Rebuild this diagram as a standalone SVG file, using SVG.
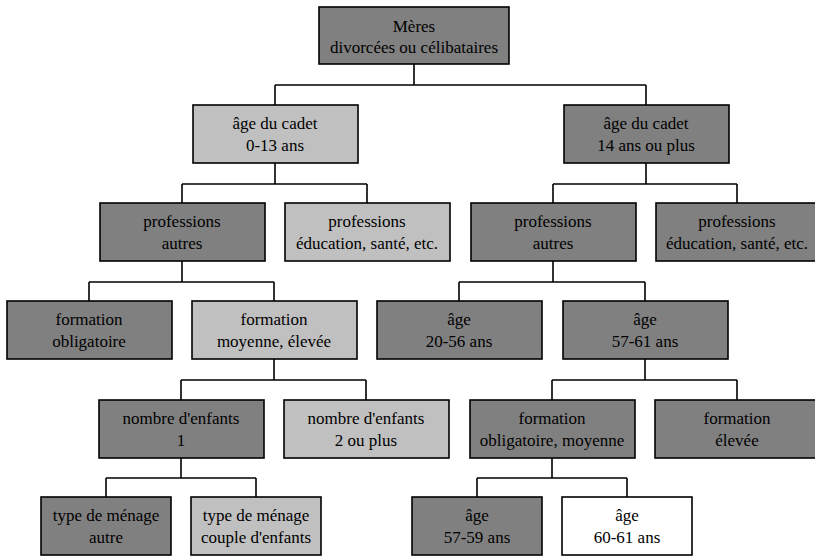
<svg xmlns="http://www.w3.org/2000/svg" width="815" height="556" viewBox="0 0 815 556">
<style>
  .box { stroke: #000; stroke-width: 1.6; }
  .dark { fill: #808080; }
  .light { fill: #c0c0c0; }
  .white { fill: #ffffff; }
  .t text { font-family: 'Liberation Serif', 'Times New Roman', 'DejaVu Serif', serif; font-size: 17px; fill: #000; text-anchor: middle; }
  .conn { fill: none; stroke: #000; stroke-width: 1.6; }
</style>
<rect width="815" height="556" fill="#fff"/>
<g id="connectors" class="conn">
  <path d="M414 64 V85 M275 85 H646 M275 85 V105 M646 85 V105"/>
  <path d="M275 163 V184 M182 184 H367 M182 184 V203 M367 184 V203"/>
  <path d="M646 163 V184 M553 184 H737 M553 184 V203 M737 184 V203"/>
  <path d="M182 261 V282 M89 282 H274 M89 282 V301 M274 282 V301"/>
  <path d="M553 261 V282 M459 282 H645 M459 282 V301 M645 282 V301"/>
  <path d="M274 359 V380 M181 380 H366 M181 380 V400 M366 380 V400"/>
  <path d="M645 359 V380 M552 380 H737 M552 380 V400 M737 380 V400"/>
  <path d="M181 458 V478 M106 478 H256 M106 478 V497 M256 478 V497"/>
  <path d="M552 458 V478 M477 478 H627 M477 478 V497 M627 478 V497"/>
</g>
<g class="t" font-family="Liberation Serif, Times New Roman, serif" font-size="17" text-anchor="middle">
<g id="root">
  <rect class="box dark" x="319" y="7" width="190" height="57"/>
  <text x="414" y="32">Mères</text>
  <text x="414" y="53">divorcées ou célibataires</text>
</g>
<g id="cadet_0_13">
  <rect class="box light" x="193" y="105" width="165" height="58"/>
  <text x="275" y="129">âge du cadet</text>
  <text x="275" y="151">0-13 ans</text>
</g>
<g id="cadet_14_plus">
  <rect class="box dark" x="564" y="105" width="165" height="58"/>
  <text x="646" y="129">âge du cadet</text>
  <text x="646" y="151">14 ans ou plus</text>
</g>
<g id="prof_autres_l">
  <rect class="box dark" x="100" y="203" width="165" height="58"/>
  <text x="182" y="227">professions</text>
  <text x="182" y="249">autres</text>
</g>
<g id="prof_educ_l">
  <rect class="box light" x="285" y="203" width="165" height="58"/>
  <text x="367" y="227">professions</text>
  <text x="367" y="249">éducation, santé, etc.</text>
</g>
<g id="prof_autres_r">
  <rect class="box dark" x="471" y="203" width="165" height="58"/>
  <text x="553" y="227">professions</text>
  <text x="553" y="249">autres</text>
</g>
<g id="prof_educ_r">
  <rect class="box dark" x="656" y="203" width="165" height="58"/>
  <text x="737" y="227">professions</text>
  <text x="737" y="249">éducation, santé, etc.</text>
</g>
<g id="form_oblig">
  <rect class="box dark" x="7" y="301" width="165" height="58"/>
  <text x="89" y="325">formation</text>
  <text x="89" y="347">obligatoire</text>
</g>
<g id="form_moy_elev">
  <rect class="box light" x="192" y="301" width="165" height="58"/>
  <text x="274" y="325">formation</text>
  <text x="274" y="347">moyenne, élevée</text>
</g>
<g id="age_20_56">
  <rect class="box dark" x="377" y="301" width="165" height="58"/>
  <text x="459" y="325">âge</text>
  <text x="459" y="347">20-56 ans</text>
</g>
<g id="age_57_61">
  <rect class="box dark" x="563" y="301" width="165" height="58"/>
  <text x="645" y="325">âge</text>
  <text x="645" y="347">57-61 ans</text>
</g>
<g id="enfants_1">
  <rect class="box dark" x="99" y="400" width="165" height="58"/>
  <text x="181" y="424">nombre d'enfants</text>
  <text x="181" y="446">1</text>
</g>
<g id="enfants_2plus">
  <rect class="box light" x="284" y="400" width="165" height="58"/>
  <text x="366" y="424">nombre d'enfants</text>
  <text x="366" y="446">2 ou plus</text>
</g>
<g id="form_oblig_moy">
  <rect class="box dark" x="470" y="400" width="165" height="58"/>
  <text x="552" y="424">formation</text>
  <text x="552" y="446">obligatoire, moyenne</text>
</g>
<g id="form_elevee">
  <rect class="box dark" x="655" y="400" width="165" height="58"/>
  <text x="737" y="424">formation</text>
  <text x="737" y="446">élevée</text>
</g>
<g id="menage_autre">
  <rect class="box dark" x="41" y="497" width="130" height="58"/>
  <text x="106" y="521">type de ménage</text>
  <text x="106" y="543">autre</text>
</g>
<g id="menage_couple">
  <rect class="box light" x="191" y="497" width="130" height="58"/>
  <text x="256" y="521">type de ménage</text>
  <text x="256" y="543">couple d'enfants</text>
</g>
<g id="age_57_59">
  <rect class="box dark" x="412" y="497" width="130" height="58"/>
  <text x="477" y="521">âge</text>
  <text x="477" y="543">57-59 ans</text>
</g>
<g id="age_60_61">
  <rect class="box white" x="562" y="497" width="130" height="58"/>
  <text x="627" y="521">âge</text>
  <text x="627" y="543">60-61 ans</text>
</g>
</g>
</svg>
